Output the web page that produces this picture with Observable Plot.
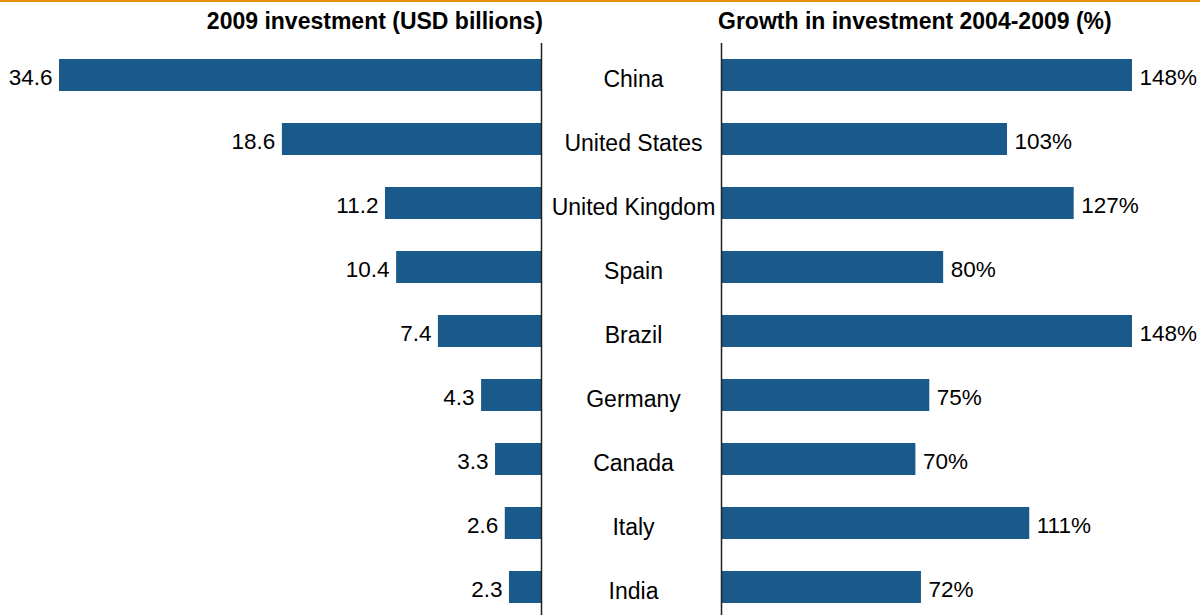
<!DOCTYPE html>
<html>
<head>
<meta charset="utf-8">
<script src="https://cdn.jsdelivr.net/npm/d3@7"></script>
<script src="https://cdn.jsdelivr.net/npm/@observablehq/plot@0.6"></script>
<style>
  html, body { margin: 0; padding: 0; background: #fff; }
  #chart { position: relative; width: 1200px; height: 615px; overflow: hidden; font-family: "Liberation Sans", Arial, sans-serif; }
  #topline { position: absolute; left: 0; top: 0; width: 1200px; height: 2px; background: #E8900C; }
  .title { position: absolute; font-weight: bold; font-size: 23px; line-height: 23px; color: #000; white-space: nowrap; }
  .panel { position: absolute; top: 0; }
</style>
</head>
<body>
<div id="chart">
  <div id="topline"></div>
  <div class="title" id="t1" style="right: 657px; top: 10px;">2009 investment (USD billions)</div>
  <div class="title" id="t2" style="left: 718px; top: 10px;">Growth in investment 2004-2009 (%)</div>
  <div class="panel" id="left" style="left: 0px;"></div>
  <div class="panel" id="center" style="left: 541px;"></div>
  <div class="panel" id="right" style="left: 700px;"></div>
</div>
<script>
const countries = ["China", "United States", "United Kingdom", "Spain", "Brazil", "Germany", "Canada", "Italy", "India"];
const investment2009 = [34.6, 18.6, 11.2, 10.4, 7.4, 4.3, 3.3, 2.6, 2.3];
const growth0409 = [148, 103, 127, 80, 148, 75, 70, 111, 72];

const rows = countries.map((c, i) => ({country: c, invest: investment2009[i], growth: growth0409[i]}));

const barColor = "#1A5A8A";
const yScale = {domain: countries, range: [43, 619], paddingInner: 0.5, paddingOuter: 0.25, axis: null};
const fontStyle = {fontFamily: "Liberation Sans, Arial, sans-serif", background: "transparent", overflow: "visible"};

const left = Plot.plot({
  width: 560, height: 615,
  marginLeft: 59, marginRight: 19, marginTop: 43, marginBottom: 0,
  style: fontStyle,
  x: {domain: [0, d3.max(investment2009)], reverse: true, axis: null},
  y: yScale,
  marks: [
    Plot.barX(rows, {x: "invest", y: "country", fill: barColor}),
    Plot.text(rows, {x: "invest", y: "country", text: d => d.invest.toFixed(1), textAnchor: "end", dx: -7, dy: 2, fontSize: 22.5, fill: "#000"}),
    Plot.ruleX([0], {stroke: "#222", strokeWidth: 1.5})
  ]
});
document.getElementById("left").appendChild(left);

const center = Plot.plot({
  width: 180, height: 615,
  marginLeft: 0, marginRight: 0, marginTop: 43, marginBottom: 0,
  style: fontStyle,
  y: yScale,
  marks: [
    Plot.text(rows, {y: "country", text: "country", frameAnchor: "middle", dx: 2, dy: 4, fontSize: 23, fill: "#000"})
  ]
});
document.getElementById("center").appendChild(center);

const right = Plot.plot({
  width: 500, height: 615,
  marginLeft: 21, marginRight: 68, marginTop: 43, marginBottom: 0,
  style: fontStyle,
  x: {domain: [0, d3.max(growth0409)], axis: null},
  y: yScale,
  marks: [
    Plot.barX(rows, {x: "growth", y: "country", fill: barColor}),
    Plot.text(rows, {x: "growth", y: "country", text: d => d.growth + "%", textAnchor: "start", dx: 7, dy: 2, fontSize: 22.5, fill: "#000"}),
    Plot.ruleX([0], {stroke: "#222", strokeWidth: 1.5})
  ]
});
document.getElementById("right").appendChild(right);
</script>
</body>
</html>
